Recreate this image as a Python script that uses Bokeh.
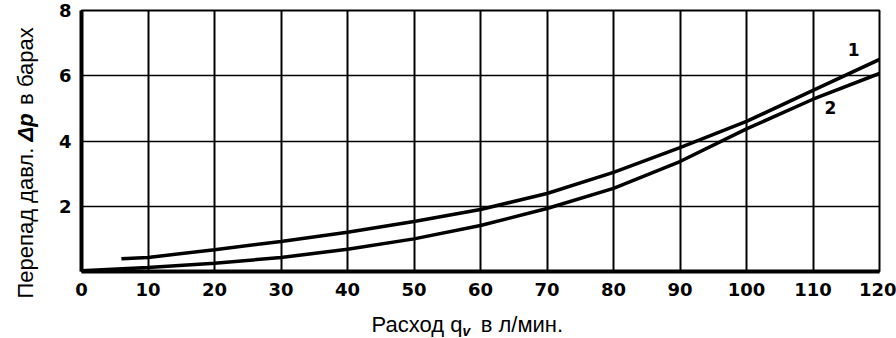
import math
from bokeh.plotting import figure
from bokeh.models import Range1d, FixedTicker, Label
from bokeh.embed import file_html
from bokeh.resources import INLINE

# ---- data ----
x_ticks = [0, 10, 20, 30, 40, 50, 60, 70, 80, 90, 100, 110, 120]
y_ticks = [2, 4, 6, 8]

q_curve1 = [6, 10, 20, 30, 40, 50, 60, 70, 80, 90, 100, 110, 120]
dp_curve1 = [0.39, 0.43, 0.67, 0.92, 1.2, 1.53, 1.9, 2.39, 3.04, 3.8, 4.6, 5.55, 6.5]

q_curve2 = [0, 10, 20, 30, 40, 50, 60, 70, 80, 90, 100, 110, 120]
dp_curve2 = [0.02, 0.12, 0.25, 0.43, 0.68, 1.0, 1.41, 1.93, 2.55, 3.37, 4.37, 5.28, 6.07]

curve_names = ["1", "2"]

TICK_FONT = "DejaVu Sans"
TITLE_FONT = "Liberation Sans"
NB = "\u00a0"

p = figure(width=896, height=338, output_backend="svg", toolbar_location=None,
           x_range=Range1d(0, 120), y_range=Range1d(0, 8),
           min_border_left=81, min_border_right=17, min_border_top=10, min_border_bottom=67,
           background_fill_color="white", border_fill_color="white")

p.outline_line_color = "black"
p.outline_line_width = 2

# axes
for ax in (p.xaxis[0], p.yaxis[0]):
    ax.major_tick_line_color = None
    ax.minor_tick_line_color = None
    ax.major_tick_out = 0
    ax.major_tick_in = 0
    ax.minor_tick_out = 0
    ax.axis_line_color = "black"
    ax.axis_line_width = 4
    ax.major_label_text_font = TICK_FONT
    ax.major_label_text_font_style = "bold"
    ax.major_label_text_font_size = "18px"
    ax.major_label_text_color = "black"

p.xaxis[0].ticker = FixedTicker(ticks=x_ticks)
p.yaxis[0].ticker = FixedTicker(ticks=y_ticks)
p.xaxis[0].major_label_standoff = 11
p.yaxis[0].major_label_standoff = 10
p.yaxis[0].major_label_text_baseline = "top"

# grid
p.xgrid[0].ticker = FixedTicker(ticks=x_ticks[1:])
p.ygrid[0].ticker = FixedTicker(ticks=y_ticks)
p.xgrid[0].grid_line_color = "black"
p.xgrid[0].grid_line_width = 2
p.ygrid[0].grid_line_color = "black"
p.ygrid[0].grid_line_width = 1.5

# curves
p.line(q_curve1, dp_curve1, line_color="black", line_width=3.5)
p.line(q_curve2, dp_curve2, line_color="black", line_width=3.5)

# curve labels
for name, lx, ly in zip(curve_names, [116.1, 112.6], [6.8, 5.03]):
    p.add_layout(Label(x=lx, y=ly, text=name, text_font=TICK_FONT,
                       text_font_style="bold", text_font_size="17px", text_color="black",
                       text_align="center", text_baseline="middle"))

# x axis title (side panel labels are not clipped to the frame)
XT = dict(x=0, y=0, text_font=TITLE_FONT, text_font_size="22px", text_color="black",
          text_baseline="middle", text_align="left")
p.add_layout(Label(x_offset=290, y_offset=-53, text="Расход q" + NB * 3 + "в л/мин.", **XT), "below")
p.add_layout(Label(x=0, y=0, x_offset=381, y_offset=-59, text="v", text_font=TITLE_FONT,
                   text_font_size="14px", text_font_style="bold italic", text_color="black",
                   text_baseline="middle", text_align="left"), "right")

# y axis title (rotated)
YT = dict(x=0, y=0, angle=math.pi / 2, text_font=TITLE_FONT, text_font_size="22px",
          text_color="black", text_baseline="middle", text_align="left")
p.add_layout(Label(x_offset=-56, y_offset=-27, text="Перепад давл." + NB * 7 + "в барах", **YT), "left")
p.add_layout(Label(x_offset=-56, y_offset=130, text="Δp", text_font_style="bold italic", **YT), "left")

open("out.html", "w").write(file_html(p, INLINE))
